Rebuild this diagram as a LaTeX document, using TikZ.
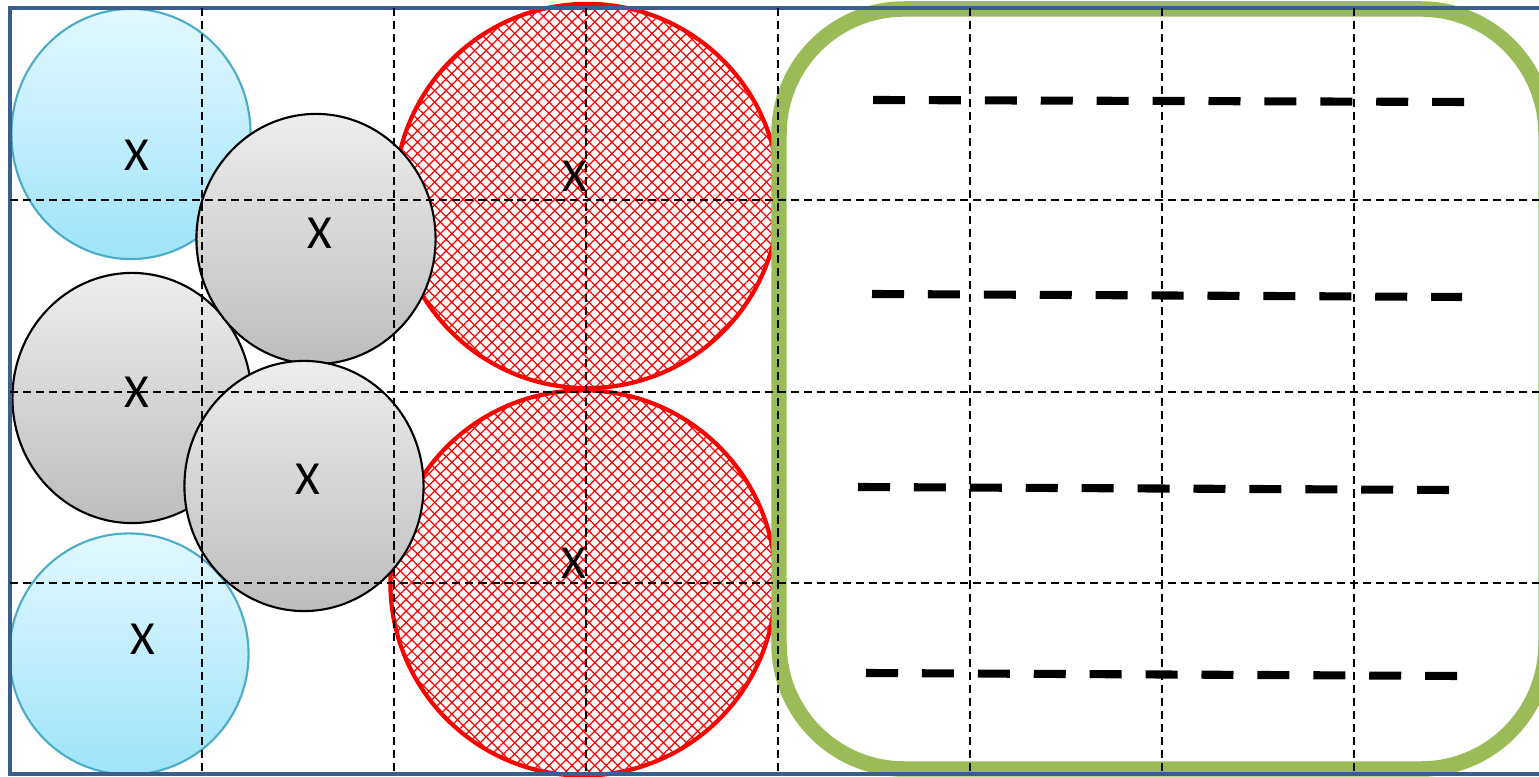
\documentclass[tikz,border=0pt]{standalone}
\usepackage{fontspec}
\newfontfamily\xfont{Carlito}
\usetikzlibrary{shapes.geometric, patterns.meta}
\definecolor{frame}{HTML}{3B5E8C}
\definecolor{sky}{HTML}{4BACC6}
\definecolor{skytop}{HTML}{E2F8FE}
\definecolor{skybot}{HTML}{9FE4FA}
\definecolor{leaf}{HTML}{9BBB59}
\definecolor{graytop}{HTML}{EDEDED}
\definecolor{graybot}{HTML}{BDBDBD}

\begin{document}
\begin{tikzpicture}[
  x=0.01cm, y=-0.01cm,
  blob/.style={ellipse, inner sep=0pt, minimum width=2.39cm, minimum height=2.5cm},
  icy/.style={blob, draw=sky, line width=0.6pt, top color=skytop, bottom color=skybot},
  stone/.style={blob, draw=black, line width=0.6pt, top color=graytop, bottom color=graybot},
  hot/.style={circle, inner sep=0pt, minimum size=3.84cm, draw=red, line width=1.2pt,
    preaction={pattern={Lines[angle=45, distance=2.3pt, line width=0.35pt]}, pattern color=red},
    pattern={Lines[angle=-45, distance=2.3pt, line width=0.35pt]}, pattern color=red},
  xlbl/.style={font=\xfont\fontsize{13.5}{16}\selectfont, inner sep=0pt},
  gridline/.style={black, line width=0.55pt, dash pattern=on 2.3pt off 1.4pt},
  slot/.style={black, line width=2.3pt, dash pattern=on 9.1pt off 6.8pt},
]
\useasboundingbox (0,0) rectangle (1539,777);

% ---- hatched discs in the middle column ----
\node[hot] (hup) at (587,196) {};
\node[hot, minimum size=3.85cm] (hdn) at (583,583) {};

% ---- small discs on the left; grey ones lie on top ----
\node[icy] (bup) at (131,134) {};
\node[icy, minimum height=2.41cm] (bdn) at (129,654) {};
\node[stone] (gml) at (132,398) {};
\node[stone] (gtp) at (316,239) {};
\node[stone] (gmr) at (304,486) {};

% ---- green box and outer frame ----
\draw[leaf, line width=4.4pt, rounded corners=1.25cm] (779,9) rectangle (1546,769);
\draw[frame, line width=1.1pt] (10,8) rectangle (1546,774);

% ---- dashed grid, 192px cells ----
\foreach \gx in {202,394,...,1354} { \draw[gridline] (\gx,8) -- (\gx,774); }
\foreach \gy in {200,392,583} { \draw[gridline] (10,\gy) -- (1539,\gy); }

% ---- thick dashed rows inside the box ----
\foreach \xa/\ya/\xb/\yb in {873/100/1464/102, 872/294/1462/297, 858/487/1450/490, 866/673/1458/676} {
  \draw[slot] (\xa,\ya) -- (\xb,\yb);
}

% ---- labels ----
\node[xlbl] (lbup) at (137,155) {X};
\node[xlbl] (lgtp) at (320,233) {X};
\node[xlbl] (lgml) at (137,392) {X};
\node[xlbl] (lgmr) at (308,479) {X};
\node[xlbl] (lbdn) at (143,639) {X};
\node[xlbl] (lhup) at (575,176) {X};
\node[xlbl] (lhdn) at (574,563) {X};

\end{tikzpicture}
\end{document}
